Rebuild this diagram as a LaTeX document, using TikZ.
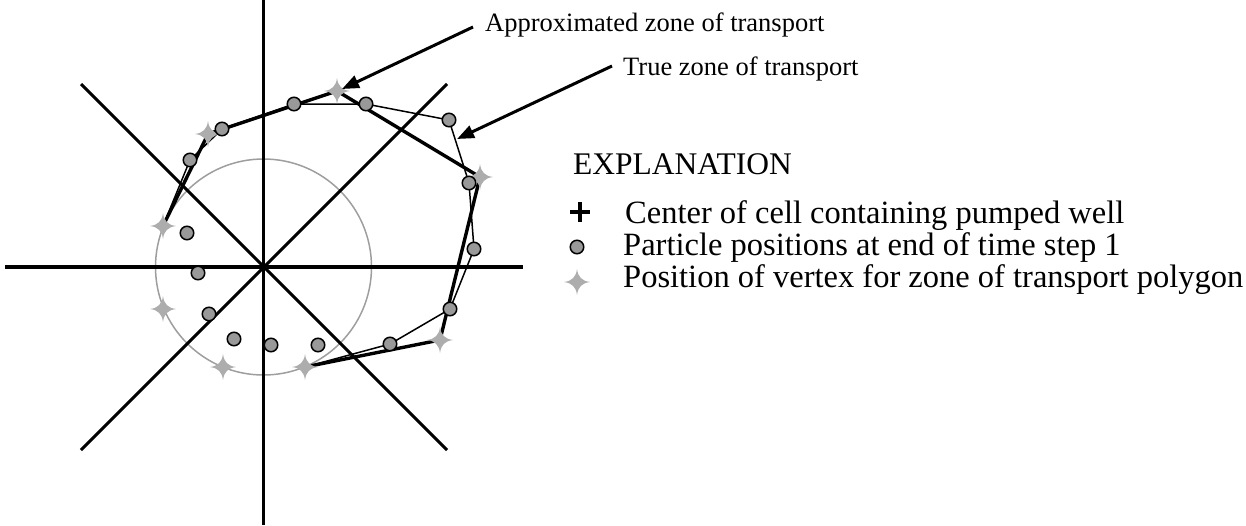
\documentclass[tikz,border=0pt]{standalone}
\usepackage{fontspec}
\setmainfont{Liberation Serif}
\usetikzlibrary{arrows.meta}
\definecolor{ptfill}{gray}{0.6}
\definecolor{stfill}{gray}{0.68}
\definecolor{circgray}{gray}{0.62}
\tikzset{
  axis/.style={line width=3.1pt},
  approx/.style={line width=3.4pt, line join=round},
  truezone/.style={line width=1.5pt, line join=round},
  particle/.style={circle, draw=black, line width=1.5pt, fill=ptfill, minimum size=13.5pt, inner sep=0pt},
  vstar/.pic={\fill[stfill] (0,-13) .. controls (1,-5) and (5,-1) .. (13,0)
      .. controls (5,1) and (1,5) .. (0,13)
      .. controls (-1,5) and (-5,1) .. (-13,0)
      .. controls (-5,-1) and (-1,-5) .. (0,-13) -- cycle;},
  pointer/.style={line width=3pt, -{Triangle[length=17pt,width=13pt]}},
  lbl/.style={font=\fontsize{26.5}{30}\selectfont, anchor=base west, inner sep=0pt},
  leg/.style={font=\fontsize{32.5}{36}\selectfont, anchor=base west, inner sep=0pt},
}
\begin{document}
\begin{tikzpicture}[x=1pt,y=-1pt]
\useasboundingbox (0,0) rectangle (1246,525);
% coordinates
\coordinate (c) at (263.5,267);
\coordinate (p1) at (222,129);
\coordinate (p2) at (294,104);
\coordinate (p3) at (366,104);
\coordinate (p4) at (449,120);
\coordinate (p5) at (469,183);
\coordinate (p6) at (474,249);
\coordinate (p7) at (450,309);
\coordinate (p8) at (390,344);
\coordinate (p9) at (318,345);
\coordinate (p10) at (271,345);
\coordinate (p11) at (234,339);
\coordinate (p12) at (209,314);
\coordinate (p13) at (198,273);
\coordinate (p14) at (187,233);
\coordinate (p15) at (190,160);
\coordinate (s1) at (337,91);
\coordinate (s2) at (480,177);
\coordinate (s3) at (440,340);
\coordinate (s4) at (305,367);
\coordinate (s5) at (223,367);
\coordinate (s6) at (163,309);
\coordinate (s7) at (163,226);
\coordinate (s8) at (208,134);
% axes end points
\coordinate (vt) at (263.5,0);
\coordinate (vb) at (263.5,525);
\coordinate (hl) at (5,267);
\coordinate (hr) at (523,267);
\coordinate (d1) at (81,84);
\coordinate (d2) at (447,450);
\coordinate (d3) at (81,450);
\coordinate (d4) at (447,84);
% circle
\draw[circgray, line width=1.5pt] (c) circle[radius=108];
% axes
\draw[axis] (vt) -- (vb);
\draw[axis] (hl) -- (hr);
\draw[axis] (d1) -- (d2);
\draw[axis] (d3) -- (d4);
% zones
\draw[approx] (s4) -- (s3) -- (s2) -- (s1) -- (s8) -- (s7);
\draw[truezone] (s4) -- (p8) -- (p7) -- (p6) -- (p5) -- (p4) -- (p3) -- (p2) -- (p1) -- (p15) -- (s7);
% vertices
\foreach \i in {1,...,8} \pic (S\i) at (s\i) {vstar};
% particles
\foreach \i in {1,...,15} \node[particle] (P\i) at (p\i) {};
% labels and pointers
\node[lbl] (lab1) at (485,31) {Approximated zone of transport};
\node[lbl] (lab2) at (623,75) {True zone of transport};
\coordinate (a1s) at (473,27);
\coordinate (a1e) at (342,89);
\coordinate (a2s) at (612,66);
\coordinate (a2e) at (457,139);
\draw[pointer] (a1s) -- (a1e);
\draw[pointer] (a2s) -- (a2e);
% legend
\node[leg, font=\fontsize{31.5}{36}\selectfont] (expl) at (573,174) {EXPLANATION};
\coordinate (plus) at (580,212);
\draw[line width=3.2pt] ([xshift=-10pt]plus) -- ([xshift=10pt]plus);
\draw[line width=3.2pt] ([yshift=-10pt]plus) -- ([yshift=10pt]plus);
\node[particle] (legp) at (577,247) {};
\pic (legs) at (577,282) {vstar};
\node[leg] (t1) at (625,223) {Center of cell containing pumped well};
\node[leg] (t2) at (623,255) {Particle positions at end of time step 1};
\node[leg] (t3) at (623,287) {Position of vertex for zone of transport polygon};
\end{tikzpicture}
\end{document}
